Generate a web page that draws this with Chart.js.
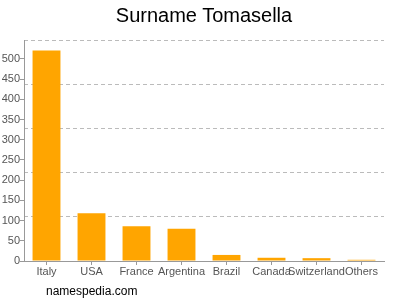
<!DOCTYPE html>
<html>
<head>
<meta charset="utf-8">
<script src="https://cdn.jsdelivr.net/npm/chart.js@4"></script>
<style>
  html, body { margin: 0; padding: 0; background: #fff; }
  #wrap { position: relative; width: 400px; height: 300px; }
  #title { position: absolute; left: 8px; width: 392px; top: 3px; text-align: center; font: 20px "Liberation Sans", Arial, sans-serif; color: #000; line-height: 24px; }
  #footer { position: absolute; left: 46px; top: 284px; font: 12px "Liberation Sans", Arial, sans-serif; color: #000; }
</style>
</head>
<body>
<div id="wrap">
  <canvas id="c" width="400" height="300"></canvas>
  <div id="title">Surname Tomasella</div>
  <div id="footer">namespedia.com</div>
</div>
<script>
const categories = ["Italy", "USA", "France", "Argentina", "Brazil", "Canada", "Switzerland", "Others"];
const counts = [521, 118, 86, 80, 15, 8, 7, 3];
const yTickStep = 50;
const yMax = 547;
const gridDivisions = 5;

const FONT = '"Liberation Sans", Arial, sans-serif';

new Chart(document.getElementById('c'), {
  type: 'bar',
  data: {
    labels: categories,
    datasets: [{
      data: counts,
      backgroundColor: '#FFA500',
      borderWidth: 0,
      barPercentage: 0.62,
      categoryPercentage: 1.0
    }]
  },
  options: {
    responsive: false,
    animation: false,
    devicePixelRatio: 1,
    layout: { padding: { left: 0, right: 0, top: 40, bottom: 0 } },
    plugins: {
      legend: { display: false },
      tooltip: { enabled: false },
      title: { display: false }
    },
    scales: {
      x: {
        grid: { display: true, drawOnChartArea: false, drawTicks: true, tickLength: 4, offset: false, color: '#999' },
        border: { display: true, color: '#999' },
        ticks: { color: '#555', font: { family: FONT, size: 11 }, padding: 0, maxRotation: 0, autoSkip: false },
        afterFit: (s) => { s.height = 39; }
      },
      y: {
        position: 'left',
        min: 0,
        max: yMax,
        grid: { display: true, drawOnChartArea: false, drawTicks: true, tickLength: 4, color: '#999' },
        border: { display: true, color: '#999' },
        ticks: { stepSize: yTickStep, color: '#555', font: { family: FONT, size: 11 }, padding: 0 },
        afterBuildTicks: (s) => {
          const t = [];
          for (let v = 0; v <= yMax; v += yTickStep) t.push({ value: v });
          s.ticks = t;
        },
        afterFit: (s) => { s.width = 24; }
      },
      y2: {
        position: 'right',
        min: 0,
        max: yMax,
        grid: {
          display: true,
          drawTicks: false,
          color: (ctx) => ctx.tick && ctx.tick.value === 0 ? 'rgba(0,0,0,0)' : '#bbb'
        },
        border: { display: false, dash: [4, 3] },
        ticks: { display: false },
        afterBuildTicks: (s) => {
          const t = [];
          for (let i = 0; i <= gridDivisions; i++) t.push({ value: yMax * i / gridDivisions });
          s.ticks = t;
        },
        afterFit: (s) => { s.width = 16; }
      }
    }
  }
});
</script>
</body>
</html>
